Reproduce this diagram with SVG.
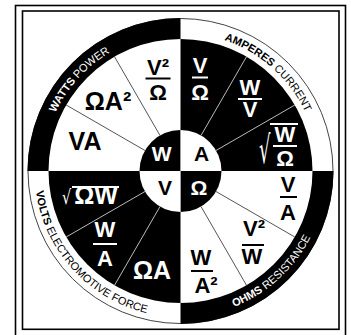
<svg xmlns="http://www.w3.org/2000/svg" width="351" height="335" viewBox="0 0 351 335">
<defs>
<style>
.b{fill:#000}
.w{fill:#fff}
.lab{font-family:"Liberation Sans",Arial,sans-serif;font-weight:bold;text-anchor:middle}
.big{font-size:25px}
.fr{font-size:22px}
.hub{font-size:21px}
.ring{font-family:"Liberation Sans",Arial,sans-serif;font-size:11px}
.dk{stroke:#555;stroke-width:1}
.lt{stroke:#bbb;stroke-width:1}
.barb{stroke:#000;stroke-width:2}
.barw{stroke:#fff;stroke-width:2}
.rad{font-family:"DejaVu Sans",sans-serif;font-weight:normal}
</style>
<path id="pTL" d="M55.43,112.68 A138,138 0 0 1 156.54,35.1"/>
<path id="pTR" d="M224.29,40.13 A138,138 0 0 1 318.5,171"/>
<path id="pBL" d="M35.92,191.32 A146,146 0 0 0 180.5,317"/>
<path id="pBR" d="M234.01,306.84 A146,146 0 0 0 326.5,171"/>
</defs>
<rect width="351" height="335" fill="#fff"/>
<g id="frame" fill="none" stroke="#000" stroke-width="1.6">
<rect x="15.5" y="5.5" width="330" height="340"/>
<rect x="22.5" y="11" width="316.5" height="318.3"/>
</g>
<g id="wheel">
<circle cx="180.5" cy="171" r="152.5" fill="#fff" stroke="#444" stroke-width="1"/>
<path class="b" d="M27.5,171 A153,153 0 0 1 180.5,18 L180.5,39 A132,132 0 0 0 48.5,171 Z"/>
<path class="b" d="M333.5,171 A153,153 0 0 1 180.5,324 L180.5,303 A132,132 0 0 0 312.5,171 Z"/>
<path class="b" d="M180.5,171 L180.5,39 A132,132 0 0 1 312.5,171 Z"/>
<path class="b" d="M180.5,171 L180.5,303 A132,132 0 0 1 48.5,171 Z"/>
</g>
<g id="connectors">
<line class="dk" x1="144.99" y1="150.5" x2="66.19" y2="105"/>
<line class="dk" x1="160" y1="135.49" x2="114.5" y2="56.69"/>
<line class="lt" x1="201" y1="135.49" x2="246.5" y2="56.69"/>
<line class="lt" x1="216.01" y1="150.5" x2="294.81" y2="105"/>
<line class="dk" x1="216.01" y1="191.5" x2="294.81" y2="237"/>
<line class="dk" x1="201" y1="206.51" x2="246.5" y2="285.31"/>
<line class="lt" x1="160" y1="206.51" x2="114.5" y2="285.31"/>
<line class="lt" x1="144.99" y1="191.5" x2="66.19" y2="237"/>
</g>
<g id="hub">
<path class="b" d="M180.5,171 L139.5,171 A41,41 0 0 1 180.5,130 Z"/>
<path class="w" d="M180.5,171 L180.5,130 A41,41 0 0 1 221.5,171 Z"/>
<path class="b" d="M180.5,171 L221.5,171 A41,41 0 0 1 180.5,212 Z"/>
<path class="w" d="M180.5,171 L180.5,212 A41,41 0 0 1 139.5,171 Z"/>
<text class="lab hub" x="161.7" y="161" fill="#fff">W</text>
<text class="lab hub" x="201.7" y="161" fill="#000">A</text>
<text class="lab hub" x="165" y="195" fill="#000">V</text>
<text class="lab hub" x="199" y="195" fill="#fff">Ω</text>
</g>
<g id="watts">
<text class="ring" fill="#fff"><textPath href="#pTL"><tspan font-weight="bold">WATTS</tspan> POWER</textPath></text>
<text class="lab big" x="85" y="150">VA</text>
<text class="lab big" x="108" y="110">ΩA²</text>
<g id="w-v2-ohm"><text class="lab fr" x="158" y="75">V²</text><line class="barb" x1="145.5" y1="78.5" x2="170.5" y2="78.5"/><text class="lab fr" x="158" y="100">Ω</text></g>
</g>
<g id="amperes" fill="#fff">
<text class="ring" fill="#000"><textPath href="#pTR"><tspan font-weight="bold">AMPERES</tspan> CURRENT</textPath></text>
<g id="a-v-ohm"><text class="lab fr" x="200" y="73">V</text><line class="barw" x1="192" y1="77.5" x2="208" y2="77.5"/><text class="lab fr" x="200" y="100">Ω</text></g>
<g id="a-w-v"><text class="lab fr" x="250" y="95">W</text><line class="barw" x1="238" y1="99" x2="262" y2="99"/><text class="lab fr" x="250" y="117">V</text></g>
<g id="a-sqrt"><text class="rad" font-size="24" transform="translate(259,163) scale(0.75,1.6)">√</text><line class="barw" x1="270" y1="124" x2="298" y2="124" stroke-width="1"/><text class="lab fr" x="285" y="142">W</text><line class="barw" x1="273" y1="146" x2="297" y2="146"/><text class="lab fr" x="285" y="166">Ω</text></g>
</g>
<g id="volts" fill="#fff">
<text class="ring" fill="#000"><textPath href="#pBL"><tspan font-weight="bold">VOLTS</tspan> ELECTROMOTIVE FORCE</textPath></text>
<g id="v-sqrt"><text class="rad" font-size="18" transform="translate(62,204) scale(0.8,1.1)">√</text><line class="barw" x1="72" y1="187" x2="119" y2="187" stroke-width="1"/><text class="lab big" x="96" y="204">ΩW</text></g>
<g id="v-w-a"><text class="lab fr" x="105" y="237">W</text><line class="barw" x1="93" y1="244" x2="117" y2="244"/><text class="lab fr" x="105" y="266">A</text></g>
<text class="lab big" x="152" y="279">ΩA</text>
</g>
<g id="ohms">
<text class="ring" fill="#fff"><textPath href="#pBR"><tspan font-weight="bold">OHMS</tspan> RESISTANCE</textPath></text>
<g id="o-v-a"><text class="lab fr" x="288" y="192">V</text><line class="barb" x1="280" y1="197" x2="297" y2="197"/><text class="lab fr" x="288" y="220">A</text></g>
<g id="o-v2-w"><text class="lab fr" x="254" y="236">V²</text><line class="barb" x1="242" y1="245" x2="264" y2="245"/><text class="lab fr" x="252" y="264">W</text></g>
<g id="o-w-a2"><text class="lab fr" x="201" y="265">W</text><line class="barb" x1="191" y1="271" x2="213" y2="271"/><text class="lab fr" x="206" y="293">A²</text></g>
</g>
</svg>
